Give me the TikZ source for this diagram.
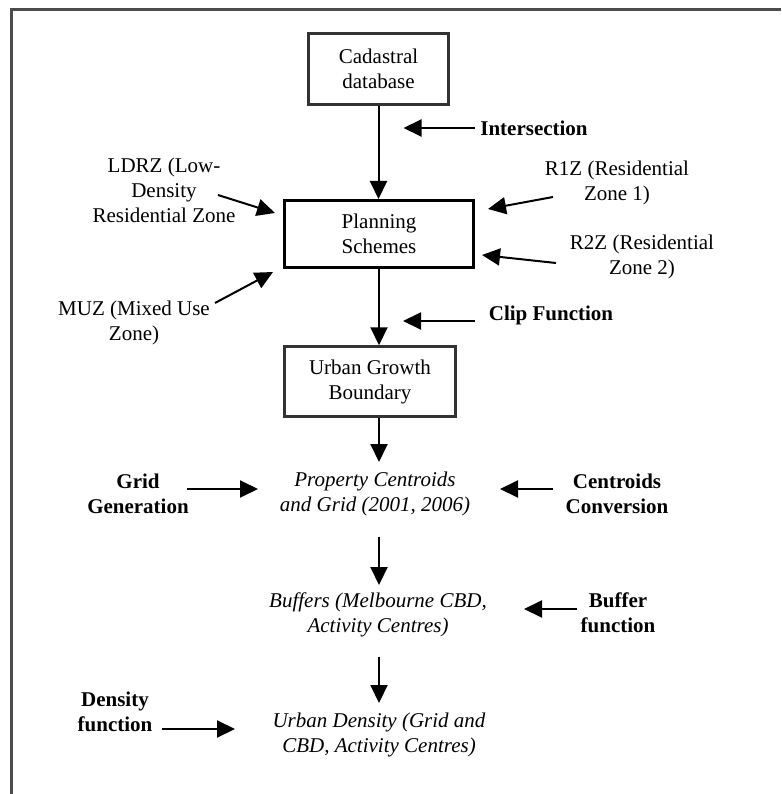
\documentclass[tikz,border=0pt]{standalone}
\usepackage{fontspec}
\setmainfont{Liberation Serif}
\usepackage{tikz}
\usetikzlibrary{
	arrows.meta,calc
}

\tikzset{
	every node/.style={font=\fontsize{21}{25}\selectfont, align=center, inner sep=0pt},
	box/.style={draw=black!80, line width=2.5pt, fill=white},
	opname/.style={font=\fontsize{21}{25}\selectfont\bfseries},
	data/.style={font=\fontsize{21}{25}\selectfont\itshape},
	flow/.style={-{Triangle[length=18pt,width=17pt]}, line width=2pt},
}

\begin{document}
\begin{tikzpicture}[x=1pt,y=-1pt]
	\useasboundingbox (0,0) rectangle (781,794);
	\draw[line width=3pt, black!70] (11,794) -- (11,9.7) -- (781,9.7);
	%
	\node[box, minimum width=140pt, minimum height=71pt] (CD) at (378.5,69) {Cadastral\\database};
	\node[box, draw=black, line width=3pt, minimum width=189pt, minimum height=67pt] (PS) at (379,234) {Planning\\Schemes};
	\node[box, minimum width=171pt, minimum height=70pt] (UGB) at (370,381.5) {Urban Growth\\Boundary};
	%
	\node (LDRZ) at (164,190) {LDRZ (Low-\\Density\\Residential Zone};
	\node (MUZ) at (134,323) {MUZ (Mixed Use\\Zone)};
	\node (R1Z) at (617,183) {R1Z (Residential\\Zone 1)};
	\node (R2Z) at (642,257) {R2Z (Residential\\Zone 2)};
	\node[opname] (INT) at (534,128) {Intersection};
	\node[opname] (CLIP) at (551,315) {Clip Function};
	%
	\node[data] (PC) at (375,494) {Property Centroids\\and Grid (2001, 2006)};
	\node[opname] (GG) at (138,493.5) {Grid\\Generation};
	\node[opname] (CC) at (617,493.5) {Centroids\\Conversion};
	\node[data] (BUF) at (378,615) {Buffers (Melbourne CBD,\\Activity Centres)};
	\node[opname] (BF) at (618,613) {Buffer\\function};
	\node[data] (UD) at (379,735) {Urban Density (Grid and\\CBD, Activity Centres)};
	\node[opname] (DF) at (115,711.5) {Density\\function};
	%
	\draw[flow] (CD.south) -- (CD.south |- PS.north);
	\draw[flow] (PS.south) -- (PS.south |- UGB.north);
	\draw[flow] (PS.south |- UGB.south) -- ($(PC.center)+(4,-32)$);
	\draw[flow] ($(PC.center)+(4,43)$) -- ($(BUF.center)+(1,-30)$);
	\draw[flow] ($(BUF.center)+(1,42)$) -- ($(UD.center)+(0,-32)$);
	%
	\draw[flow] ($(LDRZ.center)+(54,5)$) -- ($(PS.north west)+(-8,14)$);
	\draw[flow] ($(MUZ.center)+(81,-20)$) -- ($(PS.south west)+(-10,3)$);
	\draw[flow] ($(R1Z.center)+(-64,14)$) -- ($(PS.north east)+(13,10)$);
	\draw[flow] ($(R2Z.center)+(-86,6)$) -- ($(PS.south east)+(7,-14)$);
	%
	\draw[flow] ($(INT.center)+(-59,0)$) -- ($(INT.center -| CD.south)+(25,0)$);
	\draw[flow] ($(CLIP.center)+(-76,6)$) -- ($(CLIP.center -| PS.south)+(24,6)$);
	\draw[flow] ($(GG.center)+(49,-4.5)$) -- ($(PC.center)+(-117,-5)$);
	\draw[flow] ($(CC.center)+(-64,-4.5)$) -- ($(PC.center)+(125,-5)$);
	\draw[flow] ($(BF.center)+(-41,-4)$) -- ($(BUF.center)+(146,-6)$);
	\draw[flow] ($(DF.center)+(47,17.5)$) -- ($(UD.center)+(-144,-6)$);
\end{tikzpicture}
\end{document}
